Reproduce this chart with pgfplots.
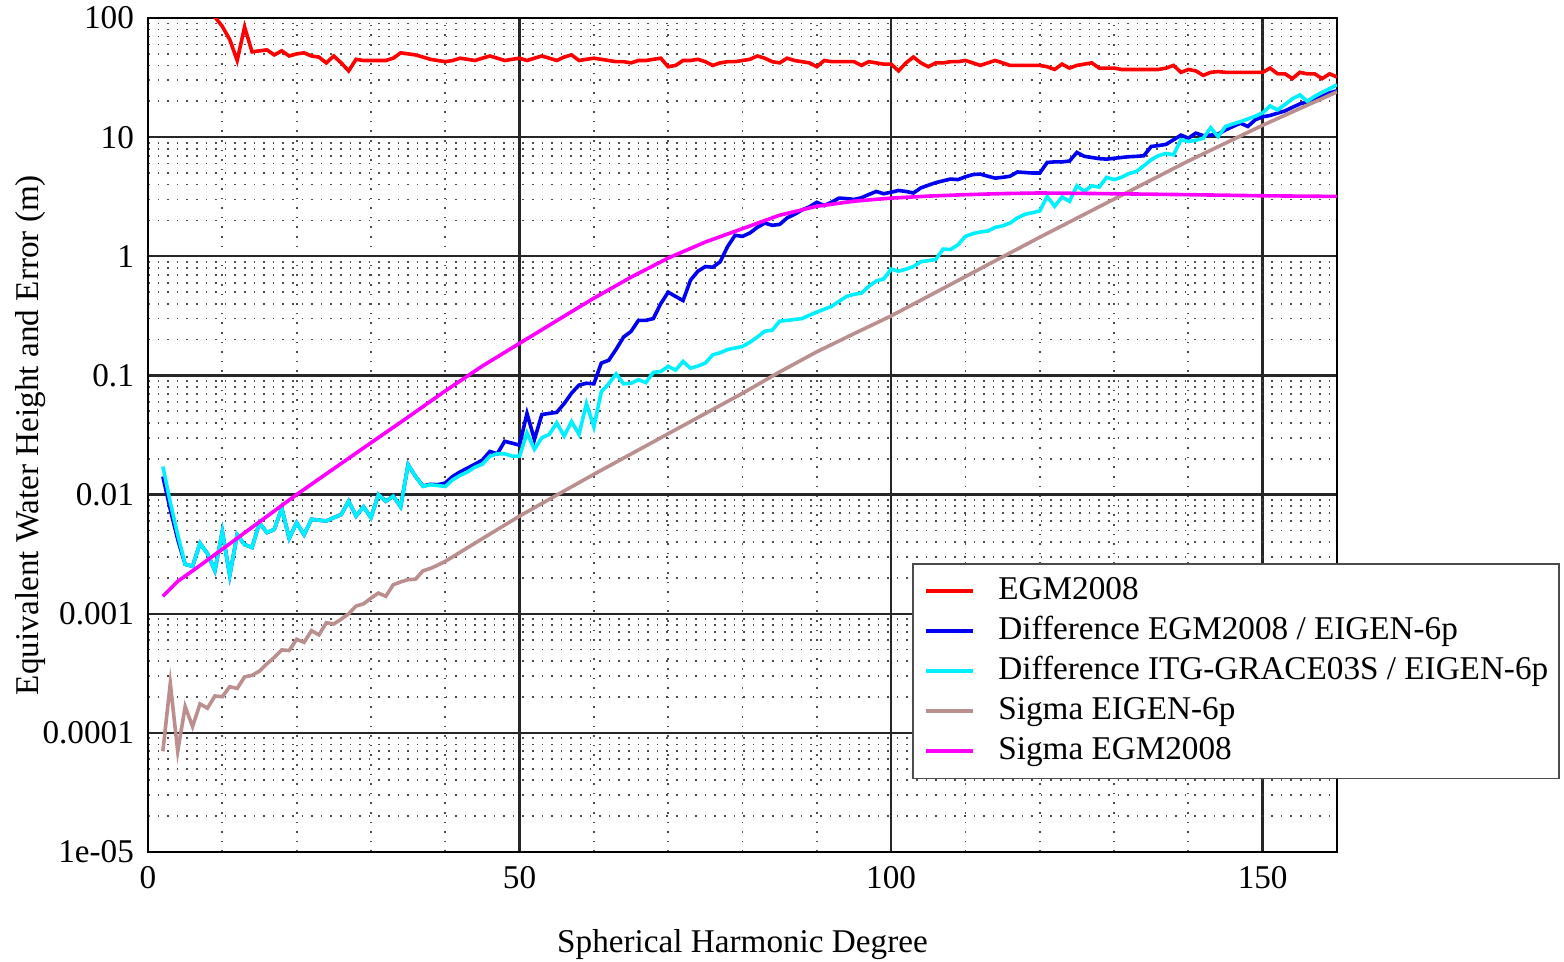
\documentclass[border=0pt]{standalone}
\usepackage{fontspec}
\setmainfont{Liberation Serif}
\usepackage{pgfplots}
\pgfplotsset{compat=1.18}
\definecolor{egmred}{RGB}{255,0,0}
\definecolor{diffblue}{RGB}{0,0,240}
\definecolor{diffcyan}{RGB}{0,240,255}
\definecolor{sigbrown}{RGB}{188,143,143}
\definecolor{sigmag}{RGB}{255,0,255}
\newcommand{\lab}{\fontsize{8.3pt}{10pt}\selectfont}

\begin{document}
\begin{tikzpicture}
\useasboundingbox (-37pt,-27.5pt) rectangle (354pt,213pt);
\begin{axis}[
  at={(0pt,0pt)}, anchor=south west,
  scale only axis, width=297.25pt, height=208.5pt,
  xmin=0, xmax=160, ymode=log, ymin=1e-5, ymax=100,
  xtick={0,50,100,150}, xticklabels={0,50,100,150},
  minor xtick={10,20,30,40,60,70,80,90,110,120,130,140},
  ytick={1e-5,1e-4,1e-3,1e-2,1e-1,1,10,100},
  yticklabels={1e-05,0.0001,0.001,0.01,0.1,1,10,100},
  minor ytick={2e-5,3e-5,4e-5,5e-5,6e-5,7e-5,8e-5,9e-5,
    2e-4,3e-4,4e-4,5e-4,6e-4,7e-4,8e-4,9e-4,
    2e-3,3e-3,4e-3,5e-3,6e-3,7e-3,8e-3,9e-3,
    0.02,0.03,0.04,0.05,0.06,0.07,0.08,0.09,
    0.2,0.3,0.4,0.5,0.6,0.7,0.8,0.9,
    2,3,4,5,6,7,8,9,20,30,40,50,60,70,80,90},
  major tick length=0pt, minor tick length=0pt,
  grid=both,
  major grid style={black!85, line width=0.6pt},
  minor grid style={black!70, dotted, line width=0.45pt},
  axis line style={black, line width=0.7pt},
  tick label style={font=\lab},
  xlabel={Spherical Harmonic Degree},
  ylabel={Equivalent Water Height and Error (m)},
  label style={font=\lab},
  xlabel style={at={(axis description cs:0.5,-0.1211)}, anchor=base},
  ylabel style={at={(axis description cs:-0.0925,0.5)}, anchor=base},
  legend style={at={(rel axis cs:0.6426,0.3465)}, anchor=north west,
    font=\lab, draw=black!70, fill=white,
    inner xsep=2.75pt, inner ysep=3.1pt, row sep=2.5pt, column sep=6pt,
    nodes={inner sep=0pt, text height=5.8pt, text depth=1.7pt}},
  legend cell align=left,
  legend image code/.code={\draw[#1, line width=0.9pt] (0pt,0pt) -- (11.75pt,0pt);},
  every axis plot/.append style={line width=0.9pt},
]
\addplot[color=egmred] table {
8 130
9 102
10 85
11 66
12 44
13 84
14 52
15 53
16 54
17 49
18 53
19 48
20 50
21 51
22 48
23 47
24 42
25 48
26 42
27 36
28 45
29 44
30 44
31 44
32 44
33 46
34 51
35 50
36 49
37 47
38 45
39 44
40 43
41 44
42 46
43 45
44 44
45 46
46 48
47 46
48 44
49 45
50 46
51 44
52 46
53 48
54 46
55 44
56 47
57 49
58 44
59 45
60 46
61 45
62 44
63 43
64 43
65 42
66 44
67 44
68 45
69 46
70 39
71 40
72 44
73 44
74 45
75 43
76 40
77 42
78 43
79 43
80 44
81 45
82 48
83 46
84 43
85 42
86 46
87 44
88 43
89 42
90 39
91 44
92 43
93 43
94 43
95 43
96 40
97 43
98 42
99 41
100 41
101 36
102 42
103 47
104 42
105 39
106 42
107 42
108 43
109 43
110 44
111 42
112 40
113 42
114 44
115 42
116 40
117 40
118 40
119 40
120 40
121 39
122 37
123 41
124 38
125 40
126 41
127 42
128 38
129 38
130 38
131 37
132 37
133 37
134 37
135 37
136 37
137 38
138 40
139 35
140 37
141 36
142 33
143 35
144 35.5
145 35
146 35
147 35
148 35
149 35
150 35
151 38
152 34
153 34
154 31
155 35
156 34
157 34
158 31
159 34
160 32
};
\addlegendentry{EGM2008}
\addplot[color=diffblue] table {
2 0.0142
3 0.0075
4 0.0042
5 0.0026
6 0.0025
7 0.0039
8 0.0032
9 0.0023
10 0.0049
11 0.0021
12 0.0046
13 0.0038
14 0.0036
15 0.0058
16 0.0048
17 0.0051
18 0.0077
19 0.0043
20 0.0058
21 0.0046
22 0.0062
23 0.0061
24 0.0060
25 0.0064
26 0.0068
27 0.0088
28 0.0066
29 0.0079
30 0.0064
31 0.0100
32 0.0088
33 0.0097
34 0.0079
35 0.0178
36 0.0142
37 0.0118
38 0.0122
39 0.0121
40 0.0125
41 0.0142
42 0.0155
43 0.0167
44 0.0180
45 0.0195
46 0.023
47 0.022
48 0.028
49 0.027
50 0.026
51 0.048
52 0.029
53 0.047
54 0.048
55 0.049
56 0.058
57 0.071
58 0.083
59 0.086
60 0.085
61 0.127
62 0.134
63 0.166
64 0.21
65 0.234
66 0.29
67 0.29
68 0.30
69 0.40
70 0.50
71 0.46
72 0.425
73 0.63
74 0.75
75 0.82
76 0.81
77 0.90
78 1.21
79 1.50
80 1.47
81 1.57
82 1.75
83 1.90
84 1.82
85 1.85
86 2.10
87 2.25
88 2.45
89 2.60
90 2.84
91 2.66
92 2.85
93 3.08
94 3.05
95 3.0
96 3.1
97 3.3
98 3.5
99 3.35
100 3.45
101 3.57
102 3.5
103 3.40
104 3.75
105 3.95
106 4.15
107 4.3
108 4.45
109 4.40
110 4.65
111 4.85
112 4.90
113 4.70
114 4.53
115 4.60
116 4.70
117 5.10
118 5.05
119 5.0
120 5.0
121 6.13
122 6.2
123 6.2
124 6.3
125 7.44
126 6.9
127 6.75
128 6.6
129 6.54
130 6.65
131 6.75
132 6.85
133 6.9
134 6.98
135 8.35
136 8.5
137 8.7
138 9.5
139 10.4
140 9.8
141 10.8
142 10.3
143 10.4
144 10.6
145 11.5
146 12.3
147 13.1
148 12.3
149 14.0
150 14.8
151 15.2
152 15.9
153 16.6
154 17.8
155 19.0
156 19.8
157 20.5
158 22.0
159 23.5
160 24.5
};
\addlegendentry{Difference EGM2008 / EIGEN-6p}
\addplot[color=diffcyan] table {
2 0.0172
3 0.0086
4 0.0046
5 0.0026
6 0.0025
7 0.0039
8 0.0032
9 0.0023
10 0.0049
11 0.0021
12 0.0046
13 0.0038
14 0.0036
15 0.0058
16 0.0048
17 0.0051
18 0.0077
19 0.0043
20 0.0058
21 0.0046
22 0.0062
23 0.0061
24 0.0060
25 0.0064
26 0.0068
27 0.0088
28 0.0066
29 0.0079
30 0.0064
31 0.0100
32 0.0088
33 0.0097
34 0.0079
35 0.0178
36 0.0142
37 0.0117
38 0.0121
39 0.0119
40 0.0117
41 0.0133
42 0.0145
43 0.0155
44 0.0170
45 0.0180
46 0.021
47 0.022
48 0.022
49 0.021
50 0.021
51 0.033
52 0.024
53 0.030
54 0.032
55 0.040
56 0.031
57 0.041
58 0.032
59 0.058
60 0.037
61 0.073
62 0.085
63 0.103
64 0.085
65 0.086
66 0.092
67 0.087
68 0.106
69 0.108
70 0.119
71 0.111
72 0.131
73 0.115
74 0.120
75 0.127
76 0.149
77 0.155
78 0.165
79 0.170
80 0.175
81 0.19
82 0.21
83 0.235
84 0.24
85 0.285
86 0.29
87 0.295
88 0.30
89 0.32
90 0.34
91 0.36
92 0.38
93 0.42
94 0.46
95 0.48
96 0.49
97 0.56
98 0.62
99 0.646
100 0.78
101 0.75
102 0.78
103 0.82
104 0.90
105 0.92
106 0.94
107 1.15
108 1.14
109 1.25
110 1.47
111 1.55
112 1.60
113 1.63
114 1.75
115 1.80
116 1.90
117 2.10
118 2.25
119 2.32
120 2.40
121 3.18
122 2.63
123 3.14
124 2.89
125 3.91
126 3.51
127 3.91
128 3.81
129 4.6
130 4.4
131 4.6
132 4.95
133 5.15
134 5.75
135 6.46
136 7.0
137 7.3
138 7.11
139 9.5
140 9.2
141 9.4
142 9.8
143 12.0
144 10.1
145 12.3
146 12.9
147 13.5
148 14.2
149 15.0
150 16.0
151 18.3
152 16.9
153 18.8
154 21.0
155 22.6
156 20.0
157 22.0
158 23.8
159 25.5
160 27.5
};
\addlegendentry{Difference ITG-GRACE03S / EIGEN-6p}
\addplot[color=sigbrown] table {
2 7.0e-5
3 2.6e-4
4 7.0e-5
5 1.66e-4
6 1.13e-4
7 1.75e-4
8 1.61e-4
9 2.04e-4
10 2.01e-4
11 2.44e-4
12 2.36e-4
13 2.95e-4
14 3.04e-4
15 3.3e-4
16 3.8e-4
17 4.3e-4
18 4.97e-4
19 4.91e-4
20 6.1e-4
21 5.75e-4
22 7.2e-4
23 6.65e-4
24 8.4e-4
25 8.2e-4
26 9.0e-4
27 1.0e-3
28 1.16e-3
29 1.21e-3
30 1.35e-3
31 1.49e-3
32 1.40e-3
33 1.75e-3
34 1.85e-3
35 1.93e-3
36 1.95e-3
37 2.29e-3
38 2.4e-3
39 2.56e-3
40 2.75e-3
45 4.27e-3
50 6.6e-3
55 9.9e-3
60 0.0148
65 0.0219
70 0.0324
75 0.0479
80 0.0708
85 0.107
90 0.158
95 0.224
100 0.316
105 0.462
110 0.676
115 0.989
120 1.445
125 2.09
130 3.02
135 4.37
140 6.31
145 8.91
150 12.59
155 17.38
160 23.99
};
\addlegendentry{Sigma EIGEN-6p}
\addplot[color=sigmag] table {
2 0.00140
3 0.00162
4 0.00187
6 0.00229
8 0.00282
10 0.00348
12 0.0043
15 0.0059
20 0.0100
25 0.0165
30 0.0272
35 0.0447
40 0.0741
45 0.120
50 0.186
55 0.288
60 0.445
65 0.668
70 0.966
75 1.318
80 1.706
85 2.213
90 2.63
95 2.90
100 3.08
105 3.20
110 3.29
115 3.36
120 3.40
130 3.35
140 3.29
150 3.22
160 3.18
};
\addlegendentry{Sigma EGM2008}
\end{axis}
\end{tikzpicture}
\end{document}
